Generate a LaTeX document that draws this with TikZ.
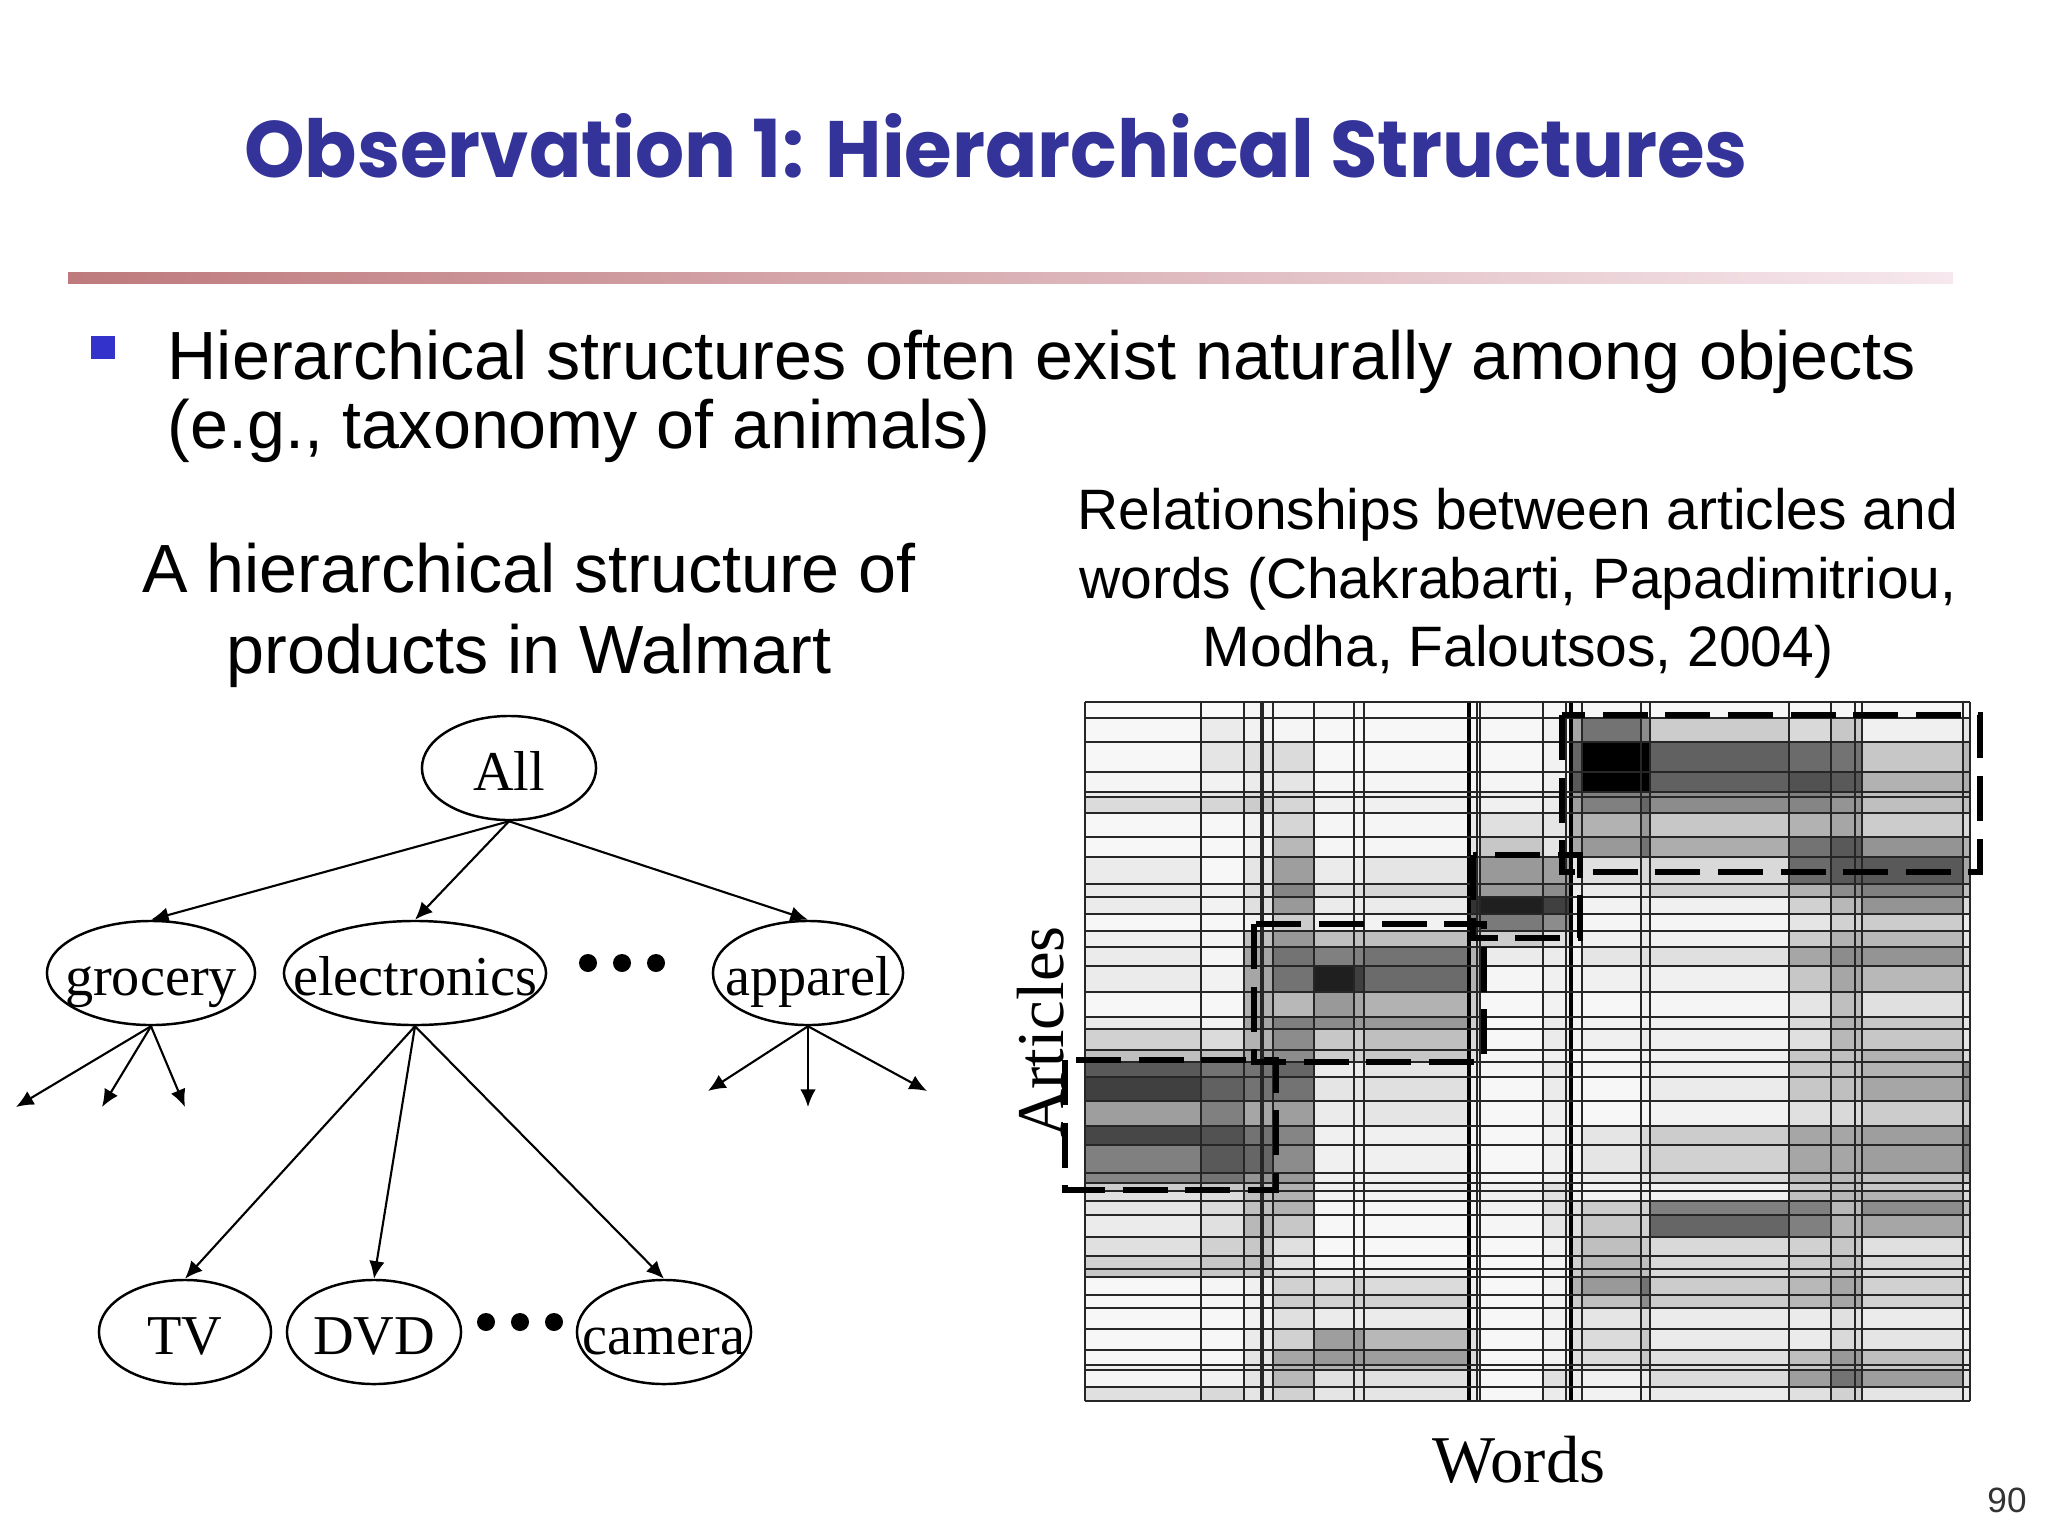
\documentclass[tikz,border=0pt]{standalone}
\usepackage{fontspec}
\usepackage{graphicx}
\setmainfont{Liberation Serif}
\newfontfamily\slidefont{Liberation Sans}
\newfontfamily\titlefont{Poppins}
\usetikzlibrary{shapes.geometric,arrows.meta}
\definecolor{titleblue}{RGB}{51,51,153}
\definecolor{bulletblue}{RGB}{51,51,204}
\definecolor{barrose}{RGB}{190,122,125}
\definecolor{barpale}{RGB}{246,232,238}
\newcommand{\inside}[1]{\raisebox{-6.5pt}[0pt][0pt]{\makebox[0pt]{#1}}}
\newcommand{\colx}{{1085,1201,1244,1273,1314,1354,1364,1469,1480,1543,1571,1582,1641,1650,1789,1831,1862,1963,1970}}

\tikzset{
  catnode/.style={draw, ellipse, line width=0.7pt, inner sep=0pt, minimum height=1.04cm, font=\fontsize{16}{18}\selectfont},
  leafdot/.style={circle, fill, inner sep=0pt, minimum size=0.18cm},
  treelink/.style={->, line width=0.6pt},
  clusterbox/.style={line width=1.5pt, dash pattern=on 12.8pt off 5pt},
  gridline/.style={line width=0.45pt, black!85},
  bodytext/.style={inner sep=0pt, font=\slidefont\fontsize{19.4}{22}\selectfont},
  headtext/.style={inner sep=0pt, font=\slidefont\fontsize{16.2}{19}\selectfont},
  axislabel/.style={inner sep=0pt, font=\fontsize{19}{21}\selectfont}
}

\begin{document}
\begin{tikzpicture}[x=0.01cm, y=-0.01cm, >={Latex[length=5pt,width=4.4pt]}]
\useasboundingbox (0,0) rectangle (2048,1536);

% title and rule
\node[anchor=base, text=titleblue, inner sep=0pt] (title) at (996,177) {\resizebox{15.03cm}{0.64cm}{\titlefont\bfseries Observation 1: Hierarchical Structures}};
\shade[left color=barrose, right color=barpale] (68,272) rectangle (1953,283);

% bullet
\fill[bulletblue] (91,336) rectangle (115,359);
\node[bodytext, anchor=base west] (bullet-1) at (167,379) {Hierarchical structures often exist naturally among objects};
\node[bodytext, anchor=base west] (bullet-2) at (167,448) {(e.g., taxonomy of animals)};

% headings
\node[bodytext, anchor=base] (tree-1) at (529,592) {A hierarchical structure of};
\node[bodytext, anchor=base] (tree-2) at (529,673) {products in Walmart};
\node[headtext, anchor=base] (mat-1) at (1518,529) {Relationships between articles and};
\node[headtext, anchor=base] (mat-2) at (1518,598) {words (Chakrabarti, Papadimitriou,};
\node[headtext, anchor=base] (mat-3) at (1518,666) {Modha, Faloutsos, 2004)};

% tree
\node[catnode, minimum width=1.74cm] (all) at (509,768) {\inside{All}};
\node[catnode, minimum width=2.08cm] (grocery) at (151,973) {\inside{grocery}};
\node[catnode, minimum width=2.62cm] (electronics) at (415,973) {\inside{electronics}};
\node[catnode, minimum width=1.90cm] (apparel) at (808,973) {\inside{apparel}};
\node[catnode, minimum width=1.72cm] (tv) at (185,1332) {\inside{TV}};
\node[catnode, minimum width=1.74cm] (dvd) at (374,1332) {\inside{DVD}};
\node[catnode, minimum width=1.74cm] (camera) at (664,1332) {\inside{camera}};

\foreach \dx [count=\k] in {588,622,656} \node[leafdot] (dot-a\k) at (\dx,963) {};
\foreach \dx [count=\k] in {486,520,554} \node[leafdot] (dot-b\k) at (\dx,1322) {};

\coordinate (g-1) at (16,1107);
\coordinate (g-2) at (102,1107);
\coordinate (g-3) at (185,1107);
\coordinate (a-1) at (708,1091);
\coordinate (a-2) at (808,1107);
\coordinate (a-3) at (927,1091);

\draw[treelink] (all.south) -- (grocery.north);
\draw[treelink] (all.south) -- (electronics.north);
\draw[treelink] (all.south) -- (apparel.north);
\draw[treelink] (electronics.south) -- (tv.north);
\draw[treelink] (electronics.south) -- (dvd.north);
\draw[treelink] (electronics.south) -- (camera.north);
\foreach \t in {g-1,g-2,g-3} \draw[treelink] (grocery.south) -- (\t);
\foreach \t in {a-1,a-2,a-3} \draw[treelink] (apparel.south) -- (\t);

% article-word matrix
\foreach \ya/\yb/\vals in {
702/718/{2,2,3,3,3,3,2,2,3,3,3,3,3,3,3,3,3,3},
718/742/{3,8,5,4,3,3,3,3,3,5,35,55,45,20,15,22,6,10},
742/772/{3,10,12,14,3,3,3,3,3,5,60,100,100,62,58,55,22,28},
772/792/{4,5,8,10,4,4,4,4,4,6,65,100,100,62,68,65,30,32},
792/797/{8,10,14,14,6,6,6,6,8,10,40,50,50,45,50,45,25,25},
797/813/{14,16,20,16,6,6,6,6,6,8,38,50,60,45,48,42,25,25},
813/837/{3,3,5,16,4,4,4,8,12,10,30,30,40,22,30,35,20,15},
837/857/{3,3,5,28,4,4,4,10,22,10,35,40,55,32,55,65,42,30},
857/884/{8,3,10,38,8,8,10,30,40,38,10,12,15,15,58,65,65,35},
884/897/{8,6,12,48,12,12,16,40,40,45,8,8,10,18,30,45,50,25},
897/914/{8,5,12,40,8,8,8,80,88,75,6,5,8,6,18,28,42,15},
914/931/{3,3,5,20,6,6,5,50,52,45,5,4,6,4,10,18,20,8},
931/947/{6,4,25,40,25,25,25,20,20,12,5,6,8,6,20,30,28,10},
947/966/{8,4,35,55,50,50,55,30,8,8,5,10,12,12,35,45,42,15},
966/992/{8,5,35,55,88,75,58,30,4,6,5,6,8,6,22,35,28,15},
992/1017/{3,3,30,28,40,35,30,20,3,5,4,3,5,4,10,25,12,8},
1017/1029/{8,5,35,50,45,40,40,20,3,8,5,5,6,6,15,30,22,10},
1029/1050/{18,14,30,45,22,20,25,15,3,8,5,6,8,6,12,28,22,10},
1050/1062/{25,25,35,45,20,18,22,12,4,6,4,4,5,6,22,25,30,15},
1062/1077/{65,55,55,60,8,8,10,6,4,8,4,4,5,6,22,25,30,45},
1077/1101/{75,62,55,55,10,10,12,6,3,8,4,3,4,8,22,25,35,45},
1101/1126/{38,50,35,38,8,8,10,5,3,6,3,3,3,5,12,15,20,20},
1126/1145/{72,68,55,48,6,6,6,4,3,6,5,10,15,20,35,35,38,50},
1145/1173/{50,65,60,45,6,6,6,4,3,6,5,10,15,18,35,35,38,50},
1173/1183/{48,55,42,40,6,6,6,4,3,6,5,8,10,15,28,28,25,22},
1183/1191/{20,22,25,30,6,6,6,4,6,12,5,5,6,6,20,25,22,12},
1191/1201/{12,14,25,30,5,5,5,4,6,12,6,5,6,5,25,28,30,15},
1201/1215/{10,14,25,30,4,4,4,4,5,12,12,20,18,50,50,28,45,25},
1215/1237/{8,12,28,22,3,3,3,4,4,10,12,22,18,60,50,30,35,20},
1237/1256/{12,18,22,12,3,3,3,3,3,6,18,25,20,15,18,22,12,10},
1256/1269/{18,22,25,10,4,4,4,3,3,5,18,28,25,15,20,25,15,12},
1269/1277/{22,22,22,14,6,6,6,4,3,5,20,30,25,15,20,25,15,10},
1277/1295/{3,4,6,18,14,20,14,6,3,5,30,40,55,20,28,35,18,10},
1295/1308/{3,4,6,20,18,18,18,8,3,5,20,25,45,20,28,35,18,10},
1308/1329/{3,3,5,12,8,8,8,4,3,5,10,10,15,8,8,12,8,5},
1329/1350/{3,3,8,18,38,40,28,12,3,5,12,14,22,8,8,15,10,8},
1350/1365/{3,3,10,35,40,40,38,15,3,5,12,14,22,12,25,40,25,10},
1365/1370/{6,6,10,30,30,30,28,12,3,8,12,12,20,12,22,35,22,10},
1370/1387/{4,5,10,28,12,12,12,8,3,12,8,6,8,14,38,55,38,12},
1387/1401/{12,15,10,18,10,10,10,6,3,8,6,5,5,8,12,18,10,8}}{
  \foreach \v [count=\i] in \vals {
    \pgfmathsetmacro\xa{\colx[\i-1]}
    \pgfmathsetmacro\xb{\colx[\i]}
    \fill[black!\v] (\xa,\ya) rectangle (\xb,\yb);
  }
}
\foreach \gx in {1085,1201,1244,1261,1263,1273,1314,1354,1364,1477,1480,1543,1566,1582,1641,1650,1789,1831,1855,1862,1963,1970}
  \draw[gridline] (\gx,702) -- (\gx,1401);
\foreach \gx in {1469,1571}
  \draw[gridline, line width=1.1pt, black] (\gx,702) -- (\gx,1401);
\foreach \gy in {702,718,742,772,792,797,813,837,857,884,897,914,931,947,966,992,1017,1029,1050,1062,1077,1101,1126,1145,1173,1183,1191,1201,1215,1237,1256,1269,1277,1295,1308,1329,1350,1365,1370,1387,1401}
  \draw[gridline] (1085,\gy) -- (1970,\gy);

% co-clusters
\draw[clusterbox] (1562,715) rectangle (1980,872);
\draw[clusterbox] (1473,855) rectangle (1580,938);
\draw[clusterbox] (1254,924) rectangle (1484,1062);
\draw[clusterbox] (1065,1060) rectangle (1276,1190);

\node[axislabel, rotate=90] (articles) at (1041,1032) {Articles};
\node[axislabel, anchor=base] (words) at (1519,1482) {Words};

\node[inner sep=0pt, anchor=base, text=black!80, font=\slidefont\fontsize{10}{12}\selectfont] (page) at (2007,1512) {90};
\end{tikzpicture}
\end{document}
